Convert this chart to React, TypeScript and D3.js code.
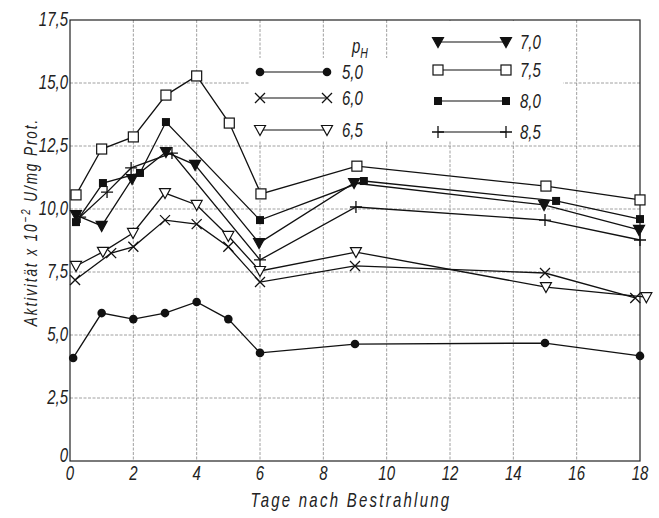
import React from "react";
import * as d3 from "d3";

// Aktivität vs. Tage nach Bestrahlung, one series per pH
const xTicks = [0, 2, 4, 6, 8, 10, 12, 14, 16, 18];
const yTicks = [0, 2.5, 5, 7.5, 10, 12.5, 15, 17.5];

const days50 = [0.1, 1, 2, 3, 4, 5, 6, 9, 15, 18];
const vals50 = [4.09, 5.87, 5.63, 5.87, 6.31, 5.63, 4.29, 4.64, 4.68, 4.17];
const days60 = [0.16, 1.3, 2, 3, 4, 5, 6, 9, 15, 17.85];
const vals60 = [7.18, 8.25, 8.5, 9.56, 9.4, 8.5, 7.1, 7.74, 7.46, 6.47];
const days65 = [0.19, 1.04, 1.99, 3, 4, 5, 6, 9.03, 15.03, 18.2];
const vals65 = [7.74, 8.3, 9.05, 10.63, 10.16, 8.93, 7.54, 8.29, 6.9, 6.5];
const days70 = [0.19, 1, 1.96, 3.03, 3.95, 5.97, 8.97, 14.97, 17.97];
const vals70 = [9.76, 9.33, 11.19, 12.26, 11.75, 8.65, 11.03, 10.16, 9.17];
const days75 = [0.19, 1, 2, 3.03, 4, 5.03, 6.03, 9.06, 15.03, 18];
const vals75 = [10.56, 12.38, 12.86, 14.52, 15.28, 13.41, 10.6, 11.7, 10.91, 10.36];
const days80 = [0.19, 1.04, 2.21, 3.03, 6, 9.28, 15.35, 18];
const vals80 = [9.48, 11.03, 11.43, 13.45, 9.56, 11.11, 10.32, 9.6];
const days85 = [0.32, 1.17, 1.93, 3.22, 6, 9.03, 15, 18];
const vals85 = [9.68, 10.67, 11.63, 12.22, 7.98, 10.08, 9.56, 8.77];

const series = [
  { label: "5,0", marker: "dot", days: days50, vals: vals50 },
  { label: "6,0", marker: "cross", days: days60, vals: vals60 },
  { label: "6,5", marker: "triOpen", days: days65, vals: vals65 },
  { label: "7,0", marker: "triFilled", days: days70, vals: vals70 },
  { label: "7,5", marker: "sqOpen", days: days75, vals: vals75 },
  { label: "8,0", marker: "sqFilled", days: days80, vals: vals80 },
  { label: "8,5", marker: "plus", days: days85, vals: vals85 },
];

const width = 659;
const height = 518;
const margin = { top: 20, right: 19, bottom: 57, left: 70 };

const x = d3.scaleLinear().domain([0, 18]).range([margin.left, width - margin.right]);
const y = d3.scaleLinear().domain([0, 17.5]).range([height - margin.bottom, margin.top]);

const font = "'Liberation Sans', Arial, sans-serif";
const ink = "#222";

// narrow italic text, squeezed horizontally like the drafting lettering
const Txt = ({ x0, y0, size = 20, anchor = "start", rotate = 0, spacing = 0, children }: any) => (
  <text
    transform={`translate(${x0},${y0}) rotate(${rotate}) scale(0.75,1)`}
    textAnchor={anchor}
    fontFamily={font}
    fontStyle="italic"
    fontSize={size}
    letterSpacing={spacing}
    fill={ink}
  >
    {children}
  </text>
);

const Marker = ({ type, cx, cy }: { type: string; cx: number; cy: number }) => {
  const s = "#111";
  switch (type) {
    case "dot":
      return <circle cx={cx} cy={cy} r={4.3} fill={s} />;
    case "cross":
      return (
        <path d={`M${cx - 5},${cy - 5}L${cx + 5},${cy + 5}M${cx - 5},${cy + 5}L${cx + 5},${cy - 5}`}
          stroke={s} strokeWidth={1.3} fill="none" />
      );
    case "plus":
      return (
        <path d={`M${cx - 6},${cy}L${cx + 6},${cy}M${cx},${cy - 6}L${cx},${cy + 6}`}
          stroke={s} strokeWidth={1.3} fill="none" />
      );
    case "triOpen":
    case "triFilled": {
      const d = `M${cx - 5.5},${cy - 4.5}L${cx + 5.5},${cy - 4.5}L${cx},${cy + 5.5}Z`;
      return <path d={d} stroke={s} strokeWidth={1.2} fill={type === "triOpen" ? "#fff" : s} />;
    }
    case "sqOpen":
      return <rect x={cx - 5} y={cy - 5} width={10} height={10} stroke={s} strokeWidth={1.2} fill="#fff" />;
    case "sqFilled":
      return <rect x={cx - 4} y={cy - 4} width={8} height={8} fill={s} />;
  }
  return null;
};

const App = () => {
  const line = d3.line<[number, number]>().x((d) => x(d[0])).y((d) => y(d[1]));

  const legendLeft = series.slice(0, 3);
  const legendRight = series.slice(3);
  const leftRows = [72, 98, 130];
  const rightRows = [42, 70, 101, 132];

  return (
    <svg width={width} height={height} style={{ position: "absolute", left: 0, top: 0, background: "#fff" }}>
      {/* grid */}
      <g stroke="#888" strokeWidth={0.8} strokeDasharray="3,1.5">
        {xTicks.slice(1, -1).map((t) => (
          <line key={"gx" + t} x1={x(t)} x2={x(t)} y1={y(17.5)} y2={y(0)} />
        ))}
        {yTicks.slice(1, -1).map((t) => (
          <line key={"gy" + t} x1={x(0)} x2={x(18)} y1={y(t)} y2={y(t)} />
        ))}
      </g>
      {/* legend background hides grid */}
      <rect x={250} y={58} width={313} height={83} fill="#fff" />
      <rect x={392} y={21} width={171} height={40} fill="#fff" />

      {/* frame */}
      <rect x={x(0)} y={y(17.5)} width={x(18) - x(0)} height={y(0) - y(17.5)} fill="none" stroke="#222" strokeWidth={1.2} />

      {/* series */}
      {series.map((s) => {
        const pts = s.days.map((d, i) => [d, s.vals[i]] as [number, number]);
        return (
          <g key={s.label}>
            <path d={line(pts) || ""} fill="none" stroke="#111" strokeWidth={1.3} />
            {pts.map((p, i) => (
              <Marker key={i} type={s.marker} cx={x(p[0])} cy={y(p[1])} />
            ))}
          </g>
        );
      })}

      {/* tick labels */}
      {yTicks.map((t) => (
        <Txt key={"ty" + t} x0={68} y0={t === 0 ? 462 : y(t) + 6} anchor="end">
          {t === 0 ? "0" : d3.format(".1f")(t).replace(".", ",")}
        </Txt>
      ))}
      {xTicks.map((t) => (
        <Txt key={"tx" + t} x0={x(t)} y0={480} anchor="middle">{t}</Txt>
      ))}

      {/* axis titles */}
      <Txt x0={351} y0={507} anchor="middle" spacing={3}>Tage nach Bestrahlung</Txt>
      <Txt x0={37} y0={222} anchor="middle" rotate={-90} size={18} spacing={2.6}>
        Aktivität x 10<tspan dy={-7} fontSize={13}>−2</tspan><tspan dy={7}> U/mg Prot.</tspan>
      </Txt>

      {/* legend */}
      <Txt x0={352} y0={53}>
        p<tspan dy={5} fontSize={14}>H</tspan>
      </Txt>
      {legendLeft.map((s, i) => (
        <g key={"ll" + s.label}>
          <line x1={260} x2={327} y1={leftRows[i]} y2={leftRows[i]} stroke="#111" strokeWidth={1.2} />
          <Marker type={s.marker} cx={260} cy={leftRows[i]} />
          <Marker type={s.marker} cx={327} cy={leftRows[i]} />
          <Txt x0={342} y0={leftRows[i] + 7}>{s.label}</Txt>
        </g>
      ))}
      {legendRight.map((s, i) => (
        <g key={"lr" + s.label}>
          <line x1={438} x2={506} y1={rightRows[i]} y2={rightRows[i]} stroke="#111" strokeWidth={1.2} />
          <Marker type={s.marker} cx={438} cy={rightRows[i]} />
          <Marker type={s.marker} cx={506} cy={rightRows[i]} />
          <Txt x0={520} y0={rightRows[i] + 7}>{s.label}</Txt>
        </g>
      ))}
    </svg>
  );
};

export default App;
